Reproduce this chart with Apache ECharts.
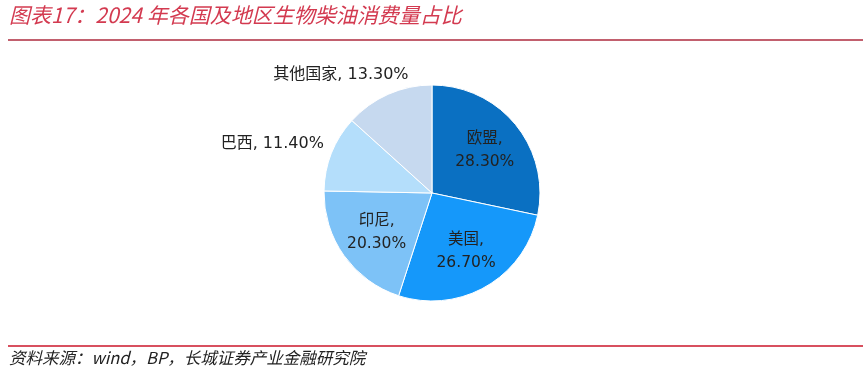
<!DOCTYPE html>
<html>
<head>
<meta charset="utf-8">
<script src="https://cdn.jsdelivr.net/npm/echarts@6/dist/echarts.min.js"></script>
<style>
html,body{margin:0;padding:0;background:#fff;}
#chart{width:863px;height:377px;}
</style>
</head>
<body>
<div id="chart"></div>
<script>
const titleText = '图表17：2024 年各国及地区生物柴油消费量占比';
const sourceText = '资料来源：wind，BP，长城证券产业金融研究院';
const categories = ['欧盟', '美国', '印尼', '巴西', '其他国家'];
const values = [28.3, 26.7, 20.3, 11.4, 13.3];
const colors = ['#0A70C2', '#1598FA', '#7DC2F7', '#B4DEFB', '#C6D9EF'];
const insideLabel = [true, true, true, false, false];

const FONT = '"DejaVu Sans", "Noto Sans CJK SC", sans-serif';
const chart = echarts.init(document.getElementById('chart'), null, {renderer: 'canvas'});

const fmt = v => v.toFixed(2) + '%';
const outerShift = {3: [-4, -8], 4: [22, -16]};

const visibleData = categories.map((c, i) => ({
  name: c, value: values[i],
  itemStyle: {color: colors[i]},
  label: insideLabel[i] ? {show: false} : {show: true},
  labelLine: {show: false}
}));
const labelData = categories.map((c, i) => ({
  name: c, value: values[i],
  label: {show: insideLabel[i]}
}));

chart.setOption({
  animation: false,
  graphic: [
    {type: 'text', left: 9, top: 5, style: {text: titleText, font: 'italic 21px "Noto Sans CJK SC", sans-serif', fill: '#D33A50'}},
    {type: 'rect', shape: {x: 8, y: 39, width: 855, height: 2}, style: {fill: '#C2606E'}},
    {type: 'rect', shape: {x: 8, y: 345, width: 855, height: 2}, style: {fill: '#D8505F'}},
    {type: 'text', left: 9, top: 349, style: {text: sourceText, font: 'italic 16.5px "Noto Sans CJK SC", sans-serif', fill: '#222'}}
  ],
  series: [
    {
      type: 'pie',
      center: [432, 193],
      radius: [0, 108],
      startAngle: 90,
      clockwise: true,
      silent: true,
      itemStyle: {borderColor: '#fff', borderWidth: 1},
      label: {
        position: 'outside',
        formatter: p => p.name + ', ' + fmt(p.value),
        fontFamily: FONT, fontSize: 16, color: '#222',
        distanceToLabelLine: 0
      },
      labelLine: {show: false, length: 4, length2: 0},
      labelLayout: p => {
        const s = outerShift[p.dataIndex] || [0, 0];
        return {dx: s[0], dy: s[1]};
      },
      data: visibleData
    },
    {
      type: 'pie',
      center: [432, 193],
      radius: [22, 108],
      startAngle: 90,
      clockwise: true,
      silent: true,
      itemStyle: {color: 'rgba(0,0,0,0)'},
      label: {
        position: 'inside',
        formatter: p => p.name + ',\n' + fmt(p.value),
        fontFamily: FONT, fontSize: 15.5, color: '#222', lineHeight: 23
      },
      labelLine: {show: false},
      data: labelData
    }
  ]
});
</script>
</body>
</html>
